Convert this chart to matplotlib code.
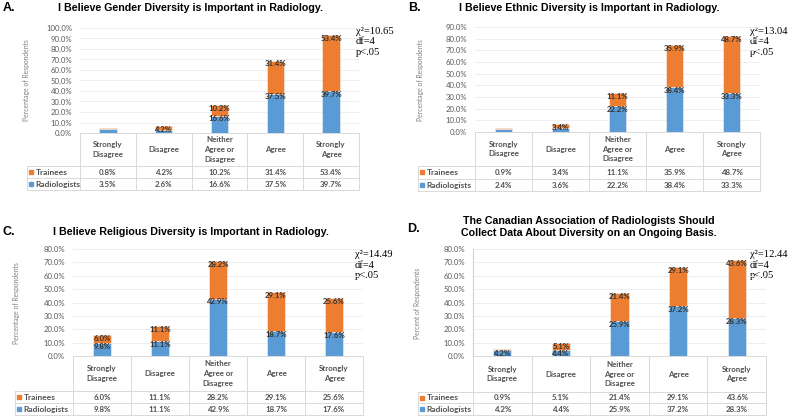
import matplotlib
matplotlib.use("Agg")
import matplotlib.pyplot as plt

W, H = 789, 419

categories = ["Strongly\nDisagree", "Disagree", "Neither\nAgree or\nDisagree", "Agree", "Strongly\nAgree"]
series_names = ["Trainees", "Radiologists"]

# panel A - gender
a_trainees = [0.8, 4.2, 10.2, 31.4, 53.4]
a_radiologists = [3.5, 2.6, 16.6, 37.5, 39.7]
# panel B - ethnic
b_trainees = [0.9, 3.4, 11.1, 35.9, 48.7]
b_radiologists = [2.4, 3.6, 22.2, 38.4, 33.3]
# panel C - religious
c_trainees = [6.0, 11.1, 28.2, 29.1, 25.6]
c_radiologists = [9.8, 11.1, 42.9, 18.7, 17.6]
# panel D - CAR data collection
d_trainees = [0.9, 5.1, 21.4, 29.1, 43.6]
d_radiologists = [4.2, 4.4, 25.9, 37.2, 28.3]

# which bar labels are visible in the original
a_show = ([0, 1, 1, 1, 1], [0, 0, 1, 1, 1])
b_show = ([0, 1, 1, 1, 1], [0, 0, 1, 1, 1])
c_show = ([1, 1, 1, 1, 1], [1, 1, 1, 1, 1])
d_show = ([0, 1, 1, 1, 1], [1, 1, 1, 1, 1])

titles = ["I Believe Gender Diversity is Important in Radiology.",
          "I Believe Ethnic Diversity is Important in Radiology.",
          "I Believe Religious Diversity is Important in Radiology.",
          "The Canadian Association of Radiologists Should\nCollect Data About Diversity on an Ongoing Basis."]
letters = ["A.", "B.", "C.", "D."]
ylabels = ["Percentage of Respondents", "Percentage of Respondents",
           "Percentage of Respondents", "Percent of Respondents"]
chi2 = [10.65, 13.04, 14.49, 12.44]
ymaxes = [100, 90, 80, 80]

ORANGE = "#ED7D31"
BLUE = "#5B9BD5"
LINE = "#D9D9D9"
TXT = "#505050"
SANS = ["Lato", "DejaVu Sans"]

# layout in pixels
layout = [
    dict(L=80, R=359, T=28, B=133, cb=166, tb=178, rb=190, ll=27, yx=27, yy=80,
         tx=191, ty=8, lx=3, ly=8, sx=356, sy=42, vaxis=False),
    dict(L=475, R=760, T=27, B=132, cb=166, tb=179, rb=191, ll=418, yx=421, yy=80,
         tx=589, ty=8, lx=408, ly=8, sx=750, sy=42, vaxis=False),
    dict(L=73, R=363, T=249, B=356, cb=391, tb=403, rb=415, ll=15, yx=17, yy=303,
         tx=191, ty=232, lx=3, ly=232, sx=355, sy=265, vaxis=False),
    dict(L=473, R=766, T=249, B=356, cb=392, tb=403, rb=415, ll=418, yx=418, yy=303,
         tx=589, ty=227, lx=407, ly=229, sx=750, sy=265, vaxis=True),
]

panels = [(a_trainees, a_radiologists, a_show), (b_trainees, b_radiologists, b_show),
          (c_trainees, c_radiologists, c_show), (d_trainees, d_radiologists, d_show)]

fig = plt.figure(figsize=(W / 100, H / 100), dpi=100)
fig.patch.set_facecolor("white")

ov = fig.add_axes([0, 0, 1, 1], zorder=0)
ov.set_xlim(0, W)
ov.set_ylim(H, 0)
ov.axis("off")

for i, (tr, rad, show) in enumerate(panels):
    g = layout[i]
    ax = fig.add_axes([g["L"] / W, 1 - g["B"] / H, (g["R"] - g["L"]) / W, (g["B"] - g["T"]) / H], zorder=2)
    ax.patch.set_alpha(0)
    x = [k + 0.5 for k in range(len(categories))]
    ax.bar(x, rad, width=0.31, color=BLUE, edgecolor="#F2F2F2", linewidth=0.4, zorder=3)
    ax.bar(x, tr, width=0.31, bottom=rad, color=ORANGE, edgecolor="#F2F2F2", linewidth=0.4, zorder=3)
    for k in range(len(x)):
        if show[1][k]:
            ax.annotate(f"{rad[k]:.1f}%", (x[k], rad[k]), xytext=(0, -2.4), textcoords="offset points",
                        ha="center", va="center", fontsize=5.6, fontweight="bold", color="#333333",
                        family=SANS, zorder=4)
        if show[0][k]:
            ax.annotate(f"{tr[k]:.1f}%", (x[k], rad[k] + tr[k]), xytext=(0, -2.4), textcoords="offset points",
                        ha="center", va="center", fontsize=5.6, fontweight="bold", color="#333333",
                        family=SANS, zorder=4)
    ymax = ymaxes[i]
    ax.set_xlim(0, len(categories))
    ax.set_ylim(0, ymax)
    ax.set_yticks(range(0, ymax + 1, 10))
    ax.set_yticklabels([f"{v:.1f}%" for v in range(0, ymax + 1, 10)], family=SANS, fontsize=5.6, color="#595959")
    ax.set_xticks([])
    ax.tick_params(axis="y", length=0, pad=5.5)
    ax.yaxis.grid(True, color="#EBEBEB", linewidth=0.6, zorder=0)
    ax.set_axisbelow(True)
    for s in ax.spines.values():
        s.set_visible(False)
    if g["vaxis"]:
        ax.spines["left"].set_visible(True)
        ax.spines["left"].set_color("#BDD7EE")
        ax.spines["left"].set_linewidth(0.8)

    # table under the plot
    L, R, B, cb, tb, rb, ll = g["L"], g["R"], g["B"], g["cb"], g["tb"], g["rb"], g["ll"]
    n = len(categories)
    cw = (R - L) / n
    ov.plot([L, R], [B, B], color=LINE, lw=0.7)
    for yy in (cb, tb, rb):
        ov.plot([ll, R], [yy, yy], color=LINE, lw=0.7)
    for k in range(n + 1):
        ov.plot([L + k * cw, L + k * cw], [B, rb], color=LINE, lw=0.7)
    ov.plot([ll, ll], [cb, rb], color=LINE, lw=0.7)
    for k in range(n):
        cx = L + (k + 0.5) * cw
        ov.text(cx, (B + cb) / 2, categories[k], ha="center", va="center", fontsize=5.7,
                fontweight="bold", color=TXT, family=SANS, linespacing=1.45)
        ov.text(cx, (cb + tb) / 2, f"{tr[k]:.1f}%", ha="center", va="center", fontsize=5.7,
                fontweight="bold", color=TXT, family=SANS)
        ov.text(cx, (tb + rb) / 2, f"{rad[k]:.1f}%", ha="center", va="center", fontsize=5.7,
                fontweight="bold", color=TXT, family=SANS)
    for name, col, (y0, y1) in zip(series_names, [ORANGE, BLUE], [(cb, tb), (tb, rb)]):
        ov.plot([ll + 4.5], [(y0 + y1) / 2], marker="s", ms=3.2, color=col, lw=0)
        ov.text(ll + 8.5, (y0 + y1) / 2, name, ha="left", va="center", fontsize=6,
                fontweight="bold", color=TXT, family=SANS)

    ov.text(g["yx"], g["yy"], ylabels[i], rotation=90, ha="center", va="center", fontsize=4.9,
            color="#7F7F7F", family=SANS)
    ov.text(g["tx"], g["ty"], titles[i], ha="center", va="center", fontsize=7.7, fontweight="bold",
            color="black", family=["Liberation Sans", "DejaVu Sans"], linespacing=1.2)
    ov.text(g["lx"], g["ly"], letters[i], ha="left", va="center", fontsize=9, fontweight="bold",
            color="black", family=["Liberation Sans", "DejaVu Sans"])
    ov.text(g["sx"], g["sy"], f"\u03c7\u00b2={chi2[i]:.2f}\ndf=4\np<.05", ha="left", va="center",
            fontsize=7.6, color="black", family=["Liberation Serif", "DejaVu Serif"], linespacing=1.15)

fig.savefig("out.png", dpi=100, facecolor="white")
